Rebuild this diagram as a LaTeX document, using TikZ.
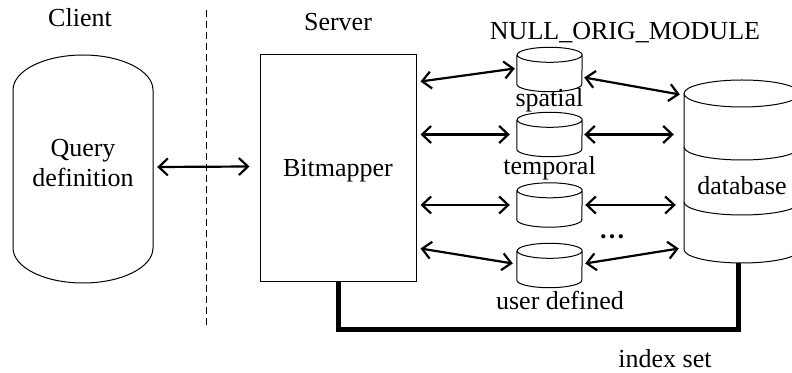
\documentclass[tikz,border=0pt]{standalone}
\usepackage{fontspec}
\setmainfont{Liberation Serif}
\usetikzlibrary{arrows.meta,calc}

\begin{document}
\begin{tikzpicture}[x=1pt,y=1pt,
  every node/.style={font=\fontsize{26}{30}\selectfont, inner sep=0pt},
  outline/.style={draw=black, line width=1pt},
  slot/.style={minimum width=65pt, minimum height=44pt},
  link/.style={line width=2.2pt,
    {Straight Barb[length=9pt,width=17pt,line width=2.2pt]}-{Straight Barb[length=9pt,width=17pt,line width=2.2pt]}},
  indexline/.style={line width=5pt, line join=miter}
]
\clip (0,0) rectangle (792,372);

% section headings and the client/server border
\node (client) at (80,354) {Client};
\node (server) at (338,350) {Server};
\coordinate (divtop) at (206,362);
\coordinate (divbot) at (206,45);
\draw[line width=1pt, dash pattern=on 7pt off 4pt] (divtop) -- (divbot);

% query definition (rounded-cap cylinder)
\node[minimum width=140pt, minimum height=228pt] (query) at (83,203) {};
\draw[outline] (13,282) -- (13,124) arc[start angle=180, end angle=360, x radius=70, y radius=35]
  -- (153,282) arc[start angle=0, end angle=180, x radius=70, y radius=35] -- cycle;
\node[align=center] (qtext) at (83,209) {Query\\definition};

% bitmapper
\node[outline, minimum width=156pt, minimum height=227pt] (bitmapper) at (338,203.5) {};
\node (btext) at (338,201) {Bitmapper};

% module cylinders
\node (modules) at (625,339) {NULL\_ORIG\_MODULE};
\node[slot] (c1) at (549.5,302.5) {};
\node[slot] (c2) at (549.5,237.5) {};
\node[slot] (c3) at (549.5,167) {};
\node[slot] (c4) at (549.5,106.5) {};
\foreach \n in {c1,c2,c3,c4}{
  \draw[outline] ([yshift=-7.5pt]\n.north west) -- ([yshift=7.5pt]\n.south west)
    arc[start angle=180, end angle=360, x radius=32.5, y radius=7.5]
    -- ([yshift=-7.5pt]\n.north east)
    arc[start angle=0, end angle=180, x radius=32.5, y radius=7.5]
    arc[start angle=180, end angle=360, x radius=32.5, y radius=7.5];
}
\node (l1) at (549.5,272) {spatial};
\node (l2) at (549.5,204) {temporal};
\node (l4) at (560,72) {user defined};
\node[anchor=base] (dots) at (612,133) {\textbf{\dots}};

% database
\node[minimum width=116pt, minimum height=183pt] (db) at (742,200.5) {};
\draw[outline] (684,278.5) -- (684,122.5)
  arc[start angle=180, end angle=360, x radius=58, y radius=13.5]
  -- (800,278.5) arc[start angle=0, end angle=180, x radius=58, y radius=13.5]
  arc[start angle=180, end angle=360, x radius=58, y radius=13.5];
\draw[outline] (684,225) arc[start angle=180, end angle=360, x radius=58, y radius=13];
\draw[outline] (684,170) arc[start angle=180, end angle=360, x radius=58, y radius=13];
\node (dbtext) at (742,186) {database};

% index set feedback
\coordinate (dbfoot) at (738,109);
\draw[indexline] (bitmapper.south) -- (338,42) -- (738,42) -- (dbfoot);
\node[anchor=base] (idx) at (665,5) {index set};

% request/response links
\draw[link] ($(query.east)+(4,2)$) -- ($(bitmapper.west)+(-10,2)$);
\draw[link] ($(bitmapper.east|-c1.west)+(4,-12)$) -- ($(c1.west)+(-2,1)$);
\draw[link] ($(c1.east)+(2,-8)$) -- ($(db.west|-c1.east)+(-4,-25)$);
\draw[link] ($(bitmapper.east|-c2.west)+(4,0)$) -- ($(c2.west)+(-7,0)$);
\draw[link] ($(c2.east)+(2,0)$) -- ($(db.west|-c2.east)+(-10,0)$);
\draw[link] ($(bitmapper.east|-c3.west)+(4,0)$) -- ($(c3.west)+(-7,0)$);
\draw[link] ($(c3.east)+(3,0)$) -- ($(db.west|-c3.east)+(-8,0)$);
\draw[link] ($(bitmapper.east|-c4.west)+(4,17)$) -- ($(c4.west)+(-4,2)$);
\draw[link] ($(c4.east)+(3,2)$) -- ($(db.west|-c4.east)+(-5,17)$);
\end{tikzpicture}
\end{document}
